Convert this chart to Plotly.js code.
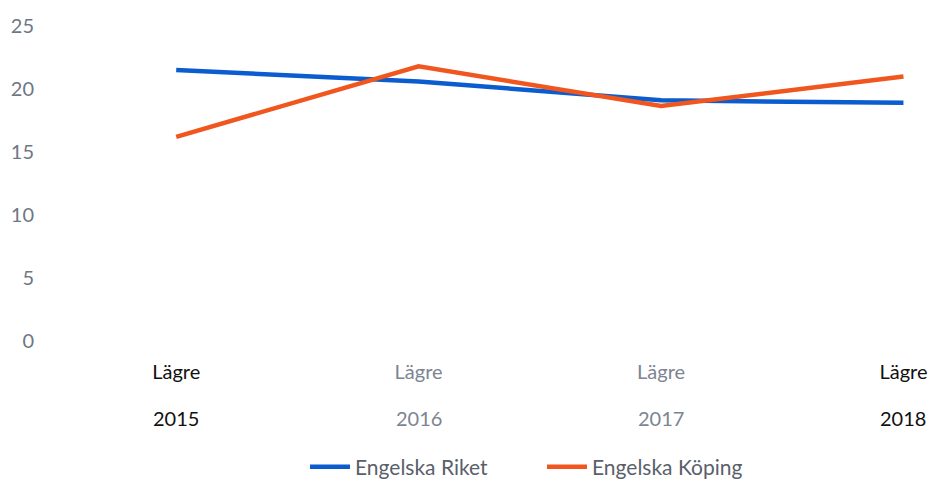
<!DOCTYPE html>
<html><head><meta charset="utf-8">
<script src="https://cdn.plot.ly/plotly-3.0.1.min.js"></script>
<style>body{margin:0;background:#fff}#c{width:928px;height:479px}</style>
</head><body><div id="c"></div>
<script>
const years = ["2015", "2016", "2017", "2018"];
const levelLabel = "Lägre";
const labelColors = ["#111111", "#7d8492", "#7d8492", "#111111"];
const riket = [21.5, 20.6, 19.1, 18.9];
const koping = [16.2, 21.8, 18.65, 21.0];
const seriesNames = ["Engelska Riket", "Engelska Köping"];

const tickText = years.map((y, i) =>
  `<span style="color:${labelColors[i]}">${levelLabel}</span>`);

const yearAnnotations = years.map((y, i) => ({
  x: i, xref: "x", y: 0, yref: "paper", yanchor: "middle", yshift: -77,
  text: y, showarrow: false, font: {size: 20, color: labelColors[i]}
}));

const traces = [
  {x: years, y: riket, name: seriesNames[0], type: "scatter", mode: "lines",
   line: {color: "#0b5ccf", width: 4.5}},
  {x: years, y: koping, name: seriesNames[1], type: "scatter", mode: "lines",
   line: {color: "#f0561e", width: 4.5}}
];

const layout = {
  width: 928, height: 479,
  margin: {l: 55, r: 10, t: 26, b: 138, autoexpand: false},
  paper_bgcolor: "#fff", plot_bgcolor: "#fff",
  font: {family: "Lato, 'Open Sans', sans-serif", size: 20, color: "#6f7785"},
  showlegend: true,
  legend: {orientation: "h", x: 305 / 928, xanchor: "left", xref: "container",
           y: 0.025, yanchor: "middle", yref: "container", entrywidth: 182,
           font: {size: 21, color: "#5a5f6a"}, itemwidth: 40, traceorder: "normal"},
  annotations: yearAnnotations,
  xaxis: {type: "category", tickmode: "array", tickvals: years, ticktext: tickText,
          range: [-0.5, 3.06], showgrid: false, zeroline: false, showline: false,
          ticks: "", tickfont: {size: 20}, ticklabelstandoff: 17},
  yaxis: {range: [0, 25], tickvals: [0, 5, 10, 15, 20, 25], showgrid: false,
          zeroline: false, showline: false, ticks: "", ticklabelstandoff: 20,
          tickfont: {size: 20, color: "#6f7785"}}
};
Plotly.newPlot("c", traces, layout, {staticPlot: true});
</script></body></html>
